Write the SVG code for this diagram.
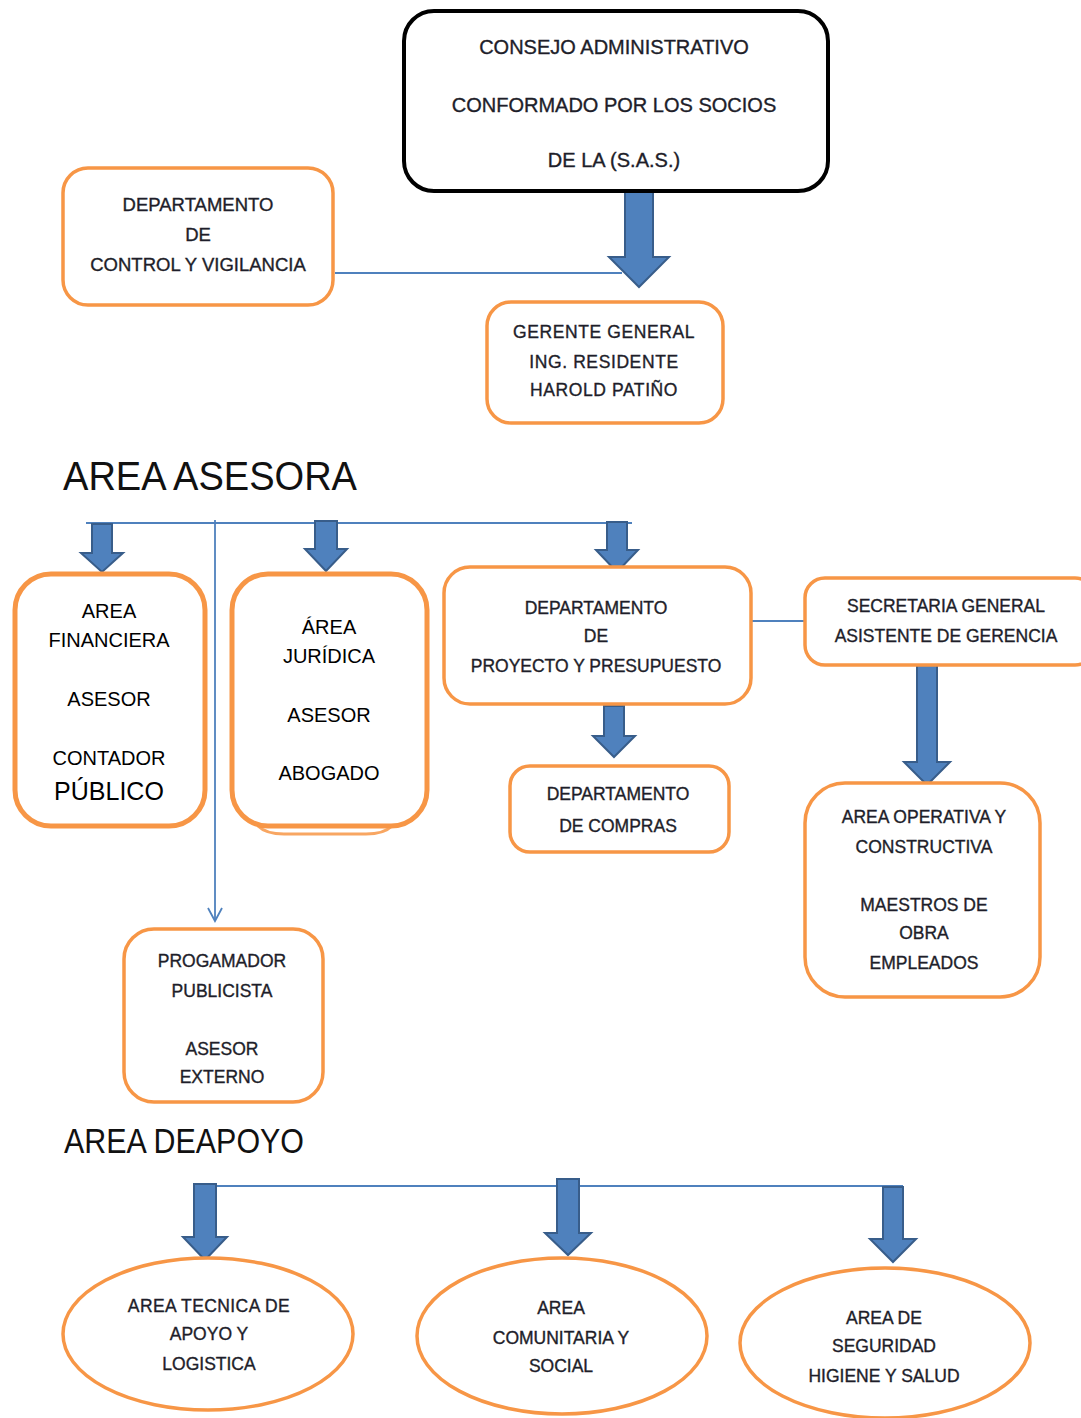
<svg xmlns="http://www.w3.org/2000/svg" width="1081" height="1418" viewBox="0 0 1081 1418">
<style>
  .box { fill: #ffffff; stroke: #F79646; stroke-width: 3.5; }
  .boxb { fill: #ffffff; stroke: #F79646; stroke-width: 5; }
  .top { fill: #ffffff; stroke: #000000; stroke-width: 4; }
  .arr { fill: #4F81BD; stroke: #385D8A; stroke-width: 2; stroke-linejoin: miter; }
  .ln { fill: none; stroke: #4F81BD; stroke-width: 1.8; }
  .t { font-family: "Liberation Sans", Arial, sans-serif; font-size: 17.5px; fill: #1e1e2a; stroke: #1e1e2a; stroke-width: 0.35; text-anchor: middle; }
  .c { font-family: "Liberation Sans", Arial, sans-serif; font-size: 20px; fill: #000000; text-anchor: middle; }
  .h { font-family: "Liberation Sans", Arial, sans-serif; fill: #111111; }
</style>

<g id="connectors">
  <line class="ln" x1="335" y1="273" x2="622" y2="273"/>
  <line class="ln" x1="86" y1="523" x2="632" y2="523"/>
  <line class="ln" x1="215" y1="520" x2="215" y2="921"/>
  <path class="ln" d="M208,908 L215,921 L222,908"/>
  <line class="ln" x1="751" y1="621" x2="806" y2="621"/>
  <line class="ln" x1="214" y1="1186" x2="903" y2="1186"/>
  <polygon class="arr" points="625,191 653,191 653,257 669,257 639,287 609,257 625,257"/>
  <polygon class="arr" points="92,524 112,524 112,553 123,553 102,572 81,553 92,553"/>
  <polygon class="arr" points="315,521 337,521 337,549 347,549 326,571 305,549 315,549"/>
  <polygon class="arr" points="607,522 627,522 627,550 638,550 617,572 596,550 607,550"/>
  <polygon class="arr" points="604,706 624,706 624,736 635,736 614,757 593,736 604,736"/>
  <polygon class="arr" points="917,664 937,664 937,762 950,762 927,785 904,762 917,762"/>
  <polygon class="arr" points="194,1184 216,1184 216,1237 227,1237 205,1260 183,1237 194,1237"/>
  <polygon class="arr" points="557,1179 579,1179 579,1233 591,1233 568,1255 545,1233 557,1233"/>
  <polygon class="arr" points="883,1187 903,1187 903,1239 916,1239 893,1262 870,1239 883,1239"/>
</g>

<g id="consejo">
  <rect class="top" x="404" y="11" width="424" height="180" rx="30"/>
  <text class="t" style="font-size:20px" x="614" y="54">CONSEJO  ADMINISTRATIVO</text>
  <text class="t" style="font-size:20px" x="614" y="112">CONFORMADO  POR LOS SOCIOS</text>
  <text class="t" style="font-size:20px" x="614" y="167">DE LA (S.A.S.)</text>
</g>

<g id="control">
  <rect class="box" x="63" y="168" width="270" height="137" rx="25"/>
  <text class="t" style="font-size:18.5px" x="198" y="211">DEPARTAMENTO</text>
  <text class="t" style="font-size:18.5px" x="198" y="241">DE</text>
  <text class="t" style="font-size:18.5px" x="198" y="271">CONTROL  Y VIGILANCIA</text>
</g>

<g id="gerente">
  <rect class="box" x="487" y="302" width="236" height="121" rx="24"/>
  <text class="t" style="letter-spacing:0.6px" x="604" y="338">GERENTE  GENERAL</text>
  <text class="t" style="letter-spacing:0.6px" x="604" y="368">ING.  RESIDENTE</text>
  <text class="t" style="letter-spacing:0.6px" x="604" y="396">HAROLD  PATIÑO</text>
</g>

<text class="h" x="63" y="490" font-size="40" textLength="294" lengthAdjust="spacingAndGlyphs">AREA ASESORA</text>

<g id="financiera">
  <rect class="boxb" x="15" y="574" width="190" height="252" rx="36"/>
  <text class="c" x="109" y="618">AREA</text>
  <text class="c" x="109" y="647">FINANCIERA</text>
  <text class="c" x="109" y="706">ASESOR</text>
  <text class="c" x="109" y="765">CONTADOR</text>
  <text class="c" style="font-size:25px" x="109" y="800">PÚBLICO</text>
</g>

<g id="juridica">
  <path d="M258,826 Q266,834 284,834 L366,834 Q384,834 392,826" fill="none" stroke="#F79646" stroke-width="3" opacity="0.85"/>
  <rect class="boxb" x="232" y="574" width="195" height="252" rx="36"/>
  <text class="c" x="329" y="634">ÁREA</text>
  <text class="c" x="329" y="663">JURÍDICA</text>
  <text class="c" x="329" y="722">ASESOR</text>
  <text class="c" x="329" y="780">ABOGADO</text>
</g>

<g id="proyecto">
  <rect class="box" x="444" y="567" width="307" height="137" rx="26"/>
  <text class="t" x="596" y="614">DEPARTAMENTO</text>
  <text class="t" x="596" y="642">DE</text>
  <text class="t" x="596" y="672">PROYECTO Y PRESUPUESTO</text>
</g>

<g id="secretaria">
  <rect class="box" x="805" y="578" width="290" height="87" rx="20"/>
  <text class="t" x="946" y="612">SECRETARIA GENERAL</text>
  <text class="t" x="946" y="642">ASISTENTE DE GERENCIA</text>
</g>

<g id="compras">
  <rect class="box" x="510" y="766" width="219" height="86" rx="20"/>
  <text class="t" x="618" y="800">DEPARTAMENTO</text>
  <text class="t" x="618" y="832">DE COMPRAS</text>
</g>

<g id="operativa">
  <rect class="box" x="805" y="783" width="235" height="214" rx="40"/>
  <text class="t" x="924" y="823">AREA OPERATIVA Y</text>
  <text class="t" x="924" y="853">CONSTRUCTIVA</text>
  <text class="t" x="924" y="911">MAESTROS DE</text>
  <text class="t" x="924" y="939">OBRA</text>
  <text class="t" x="924" y="969">EMPLEADOS</text>
</g>

<g id="progamador">
  <rect class="box" x="124" y="929" width="199" height="173" rx="30"/>
  <text class="t" x="222" y="967">PROGAMADOR</text>
  <text class="t" x="222" y="997">PUBLICISTA</text>
  <text class="t" x="222" y="1055">ASESOR</text>
  <text class="t" x="222" y="1083">EXTERNO</text>
</g>

<text class="h" x="64" y="1153" font-size="35" textLength="240" lengthAdjust="spacingAndGlyphs">AREA DEAPOYO</text>

<g id="tecnica">
  <ellipse class="box" cx="208" cy="1334" rx="145" ry="76"/>
  <text class="t" style="letter-spacing:0.4px" x="209" y="1312">AREA TECNICA DE</text>
  <text class="t" x="209" y="1340">APOYO Y</text>
  <text class="t" x="209" y="1370">LOGISTICA</text>
</g>

<g id="comunitaria">
  <ellipse class="box" cx="562" cy="1336" rx="145" ry="78"/>
  <text class="t" x="561" y="1314">AREA</text>
  <text class="t" x="561" y="1344">COMUNITARIA Y</text>
  <text class="t" x="561" y="1372">SOCIAL</text>
</g>

<g id="seguridad">
  <ellipse class="box" cx="885" cy="1343" rx="145" ry="75"/>
  <text class="t" x="884" y="1324">AREA DE</text>
  <text class="t" x="884" y="1352">SEGURIDAD</text>
  <text class="t" x="884" y="1382">HIGIENE Y SALUD</text>
</g>
</svg>
